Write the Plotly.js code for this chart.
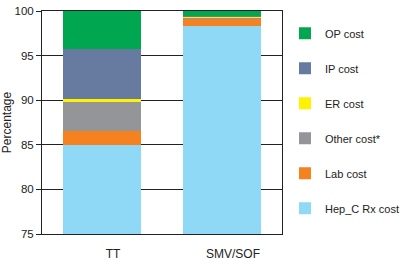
<!DOCTYPE html>
<html>
<head>
<meta charset="utf-8">
<script src="https://cdn.plot.ly/plotly-3.0.1.min.js"></script>
<style>html,body{margin:0;padding:0;background:#fff;}#chart{width:403px;height:265px;}</style>
</head>
<body>
<div id="chart"></div>
<script>
const categories = ["TT", "SMV/SOF"];
const seriesNames = ["Hep_C Rx cost", "Lab cost", "Other cost*", "ER cost", "IP cost", "OP cost"];
const hepC = [85.0, 98.33];
const lab = [1.55, 0.77];
const other = [3.2, 0.11];
const er = [0.42, 0.15];
const ip = [5.53, 0.05];
const op = [4.3, 0.59];
const seriesValues = [hepC, lab, other, er, ip, op];
const colors = ["#8fd8f6", "#f5821f", "#939598", "#fff200", "#677a9f", "#00a650"];
const yTicks = [75, 80, 85, 90, 95, 100];

const FONT = "'Liberation Sans Narrow', 'Arial Narrow', 'Liberation Sans', Arial, sans-serif";

const traces = seriesNames.map((name, i) => ({
  type: 'bar',
  name: name,
  x: categories,
  y: seriesValues[i],
  marker: {color: colors[i], line: {width: 0}},
  legendgroup: 'g' + i,
  legendrank: seriesNames.length - i,
  hoverinfo: 'skip'
}));

const layout = {
  width: 403, height: 265,
  margin: {l: 42, r: 121, t: 11, b: 31, pad: 0, autoexpand: false},
  paper_bgcolor: '#fff', plot_bgcolor: '#fff',
  barmode: 'stack',
  bargap: 0.35,
  font: {family: FONT, size: 11, color: '#222'},
  xaxis: {
    type: 'category',
    showline: true, linecolor: '#222', linewidth: 1, mirror: true,
    ticks: '', showgrid: false,
    tickfont: {family: FONT, size: 12, color: '#222'},
    ticklabelshift: 11,
    ticklabelstandoff: 9
  },
  yaxis: {
    range: [75, 100],
    tickvals: yTicks,
    ticktext: yTicks.map(String),
    showline: true, linecolor: '#222', linewidth: 1, mirror: true,
    ticks: 'outside', ticklen: 5, tickcolor: '#222', tickwidth: 1,
    showgrid: true, gridcolor: '#222', gridwidth: 1,
    zeroline: false,
    tickfont: {family: FONT, size: 11.5, color: '#222'},
    title: {text: 'Percentage', font: {family: FONT, size: 12, color: '#222'}, standoff: 8}
  },
  showlegend: true,
  legend: {
    x: 1.0125, xanchor: 'left',
    y: 0.965, yanchor: 'top',
    traceorder: 'grouped',
    tracegroupgap: 16,
    bgcolor: 'rgba(0,0,0,0)',
    font: {family: FONT, size: 11, color: '#222'}
  }
};

Plotly.newPlot('chart', traces, layout, {displayModeBar: false, staticPlot: true});
</script>
</body>
</html>
